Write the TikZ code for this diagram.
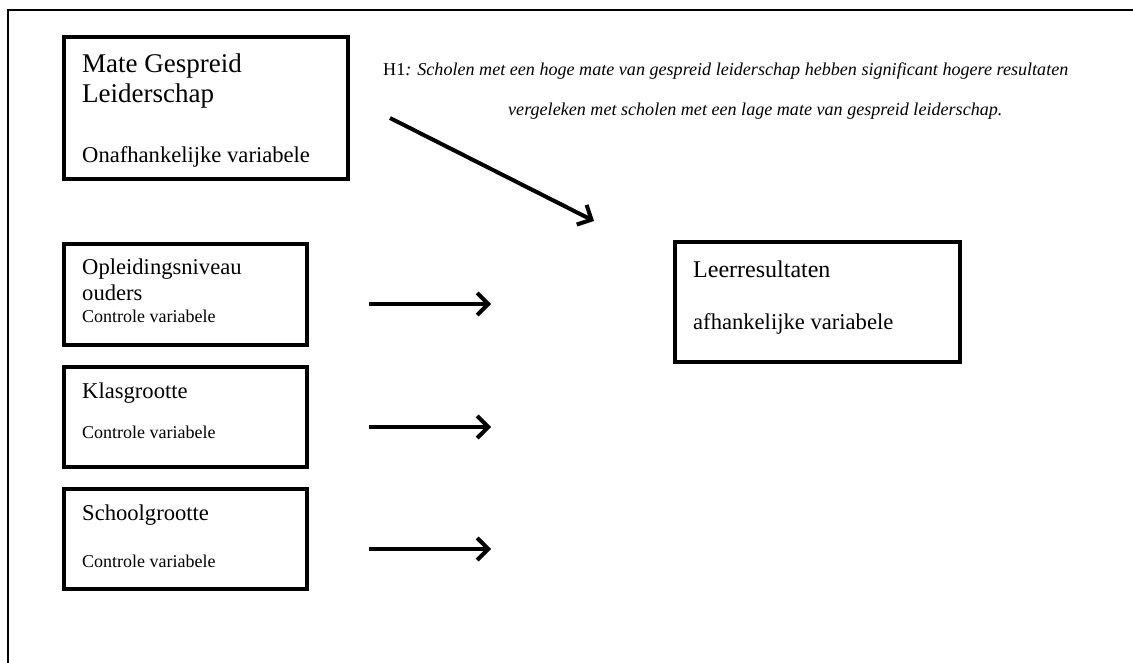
\documentclass[tikz,border=0pt]{standalone}
\usepackage{fontspec}
\setmainfont{Liberation Serif}
\usetikzlibrary{arrows.meta}
\begin{document}
\begin{tikzpicture}[x=1pt,y=-1pt,
  box/.style={draw=black,line width=4pt,inner sep=0pt,outer sep=0pt,anchor=north west},
  lbl/.style={anchor=base west,inner sep=0pt},
  big/.style={font=\fontsize{27}{32}\selectfont},
  mid/.style={font=\fontsize{22.6}{27}\selectfont},
  sml/.style={font=\fontsize{18}{22}\selectfont},
  hyp/.style={font=\fontsize{18.1}{22}\selectfont,anchor=base west,inner sep=0pt},
  arr/.style={line width=4pt,-{Straight Barb[length=11pt,width=22pt,line width=4pt]}}
]
\useasboundingbox (0,0) rectangle (1133,663);
\draw[line width=2pt] (8,663) -- (8,10) -- (1133,10);

% boxes
\node[box,minimum width=284pt,minimum height=142pt] (b1) at (64,37) {};
\node[box,minimum width=243pt,minimum height=101pt] (b2) at (64,244) {};
\node[box,minimum width=243pt,minimum height=100pt] (b3) at (64,367) {};
\node[box,minimum width=243pt,minimum height=100pt] (b4) at (64,489) {};
\node[box,minimum width=285pt,minimum height=120pt] (b5) at (675,242) {};

% texts
\node[lbl,big] (t1a) at (82,73) {Mate Gespreid};
\node[lbl,big] (t1b) at (82,103) {Leiderschap};
\node[lbl,mid] (t1c) at (82,163) {Onafhankelijke variabele};

\node[lbl,mid] (t2a) at (82,275) {Opleidingsniveau};
\node[lbl,mid] (t2b) at (82,300) {ouders};
\node[lbl,sml] (t2c) at (82,322) {Controle variabele};

\node[lbl,mid] (t3a) at (82,398) {Klasgrootte};
\node[lbl,sml] (t3c) at (82,438) {Controle variabele};

\node[lbl,mid] (t4a) at (82,520) {Schoolgrootte};
\node[lbl,sml] (t4c) at (82,567) {Controle variabele};

\node[lbl,font=\fontsize{24}{28}\selectfont] (t5a) at (693,277) {Leerresultaten};
\node[lbl,mid] (t5c) at (693,329) {afhankelijke variabele};

\node[hyp] (h1) at (383,76) {H1\textit{: Scholen met een hoge mate van gespreid leiderschap hebben significant hogere resultaten}};
\node[hyp] (h2) at (508,116) {\textit{vergeleken met scholen met een lage mate van gespreid leiderschap.}};

% arrows
\coordinate (a0s) at (390,118);
\coordinate (a0e) at (594,221);
\coordinate (a1s) at (369,304);
\coordinate (a1e) at (491,304);
\coordinate (a2s) at (369,427);
\coordinate (a2e) at (491,427);
\coordinate (a3s) at (369,549);
\coordinate (a3e) at (491,549);
\draw[arr] (a0s) -- (a0e);
\draw[arr] (a1s) -- (a1e);
\draw[arr] (a2s) -- (a2e);
\draw[arr] (a3s) -- (a3e);
\end{tikzpicture}
\end{document}
